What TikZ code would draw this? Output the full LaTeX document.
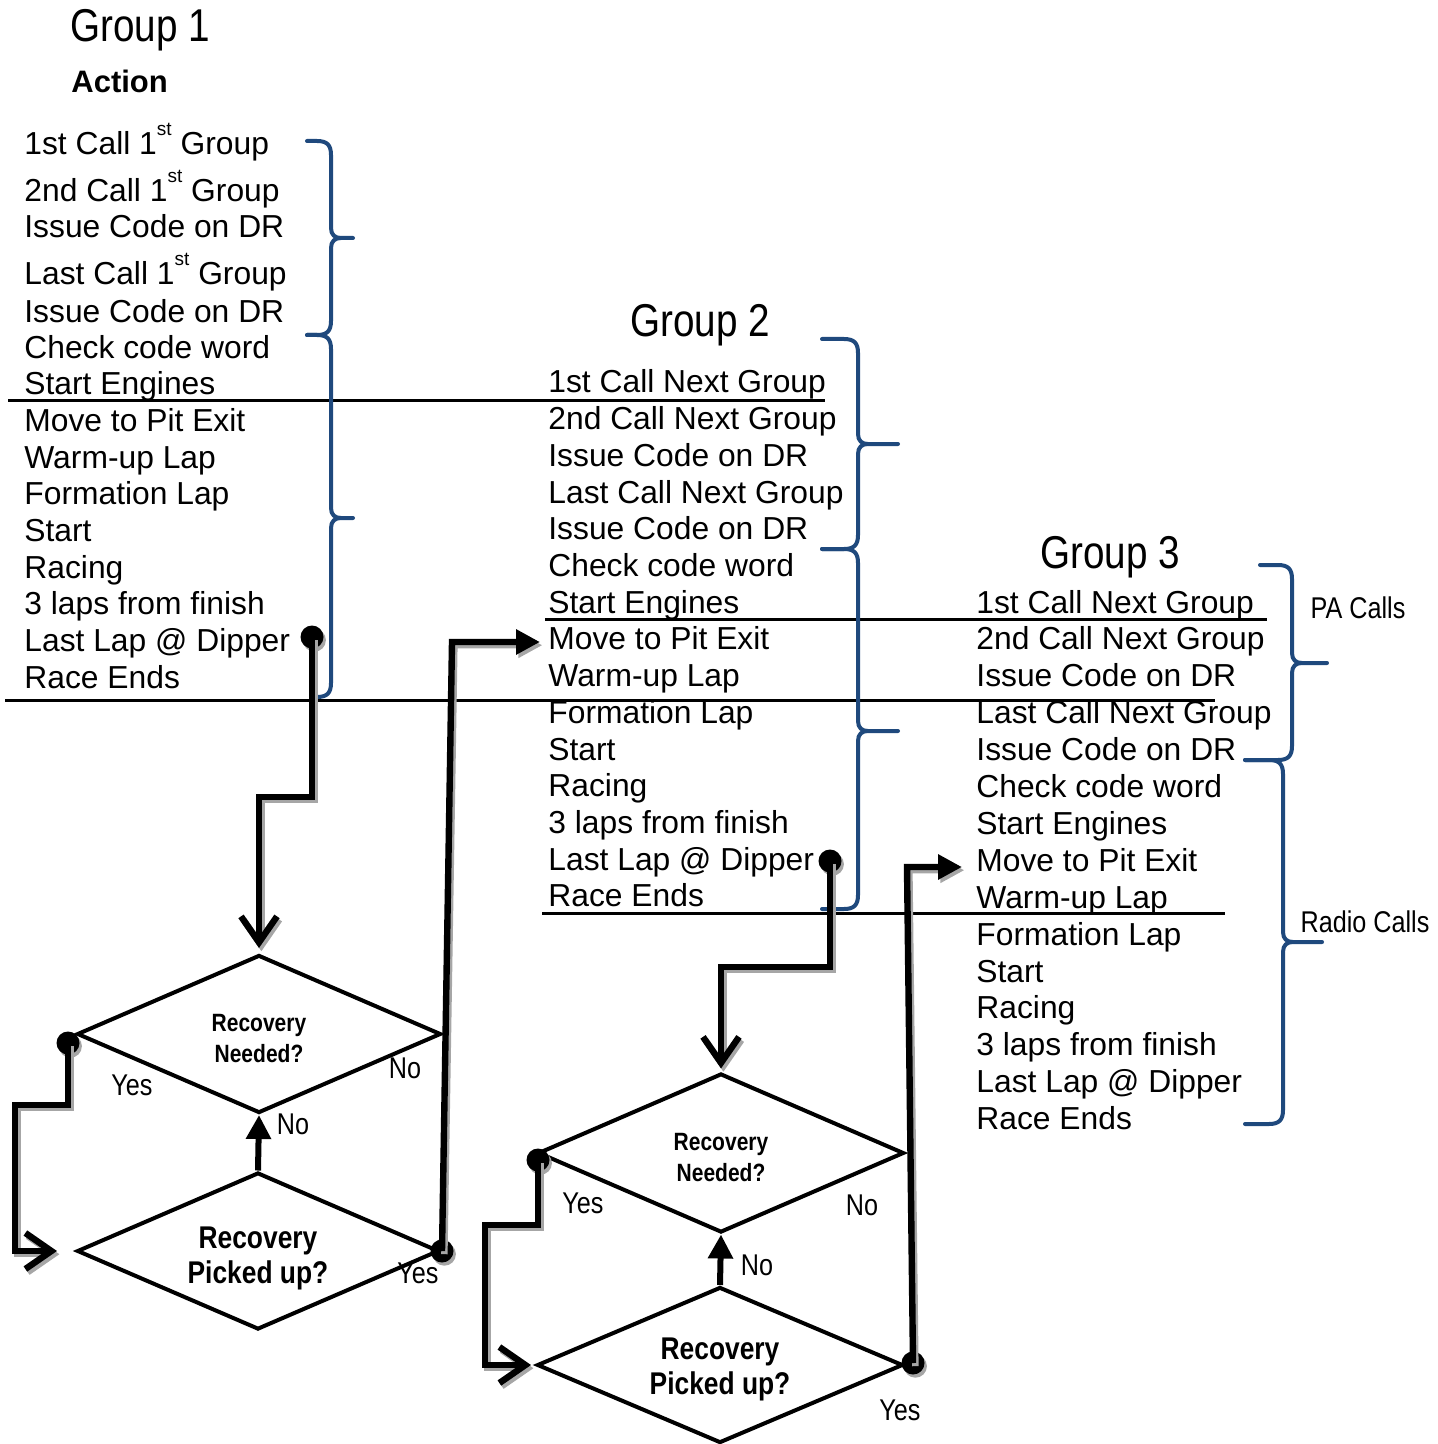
\documentclass[tikz,border=0pt]{standalone}
\usepackage{fontspec}
\setmainfont{Liberation Sans}
\newfontfamily\narrowf[FakeStretch=0.84]{Liberation Sans}
\usetikzlibrary{arrows.meta,shapes.geometric,shadows}
\definecolor{bracec}{RGB}{31,73,125}
\newcommand\supst{\raisebox{9.5pt}{\fontsize{9.5}{10}\selectfont st}}
\newcommand\bracedraw[7]{%
  \draw[brace] (#1,#2) -- (#3-14,#2) .. controls (#3-4,#2) and (#3,#2+4) .. (#3,#2+14)
    -- (#3,#4-10) .. controls (#3,#4-3) and (#3+4,#4) .. (#3+10,#4) -- (#5,#4)
    -- (#3+10,#4) .. controls (#3+4,#4) and (#3,#4+3) .. (#3,#4+10)
    -- (#3,#6-14) .. controls (#3,#6-4) and (#3-4,#6) .. (#3-14,#6) -- (#7,#6);}
\newcommand\shconn[2]{%
  \draw[conn, #1, draw=black!35, transform canvas={shift={(1.2pt,-1.6pt)}}] #2;
  \draw[conn, #1] #2;}
\tikzset{
  lst/.style={anchor=base west, inner sep=0, font=\fontsize{15.9}{18}\selectfont},
  head/.style={anchor=base west, inner sep=0, font=\narrowf\fontsize{23}{26}\selectfont},
  lbl/.style={inner sep=0, font=\narrowf\fontsize{15}{17}\selectfont},
  brace/.style={draw=bracec, line width=2pt, line join=round, line cap=round},
  sepline/.style={line width=1.5pt},
  conn/.style={line width=3.2pt},
  barb/.style={-{Straight Barb[length=13pt,width=18pt]}},
  tri/.style={-{Triangle[length=12pt,width=12pt]}},
  dia/.style={diamond, draw, line width=2pt, inner sep=0, align=center, aspect=2.3},
  smalltxt/.style={font=\narrowf\bfseries\fontsize{12.5}{15.5}\selectfont},
  bigtxt/.style={font=\narrowf\bfseries\fontsize{15.7}{17.5}\selectfont},
  dot/.style={circle, fill=black, inner sep=0, minimum size=11.5pt},
  dotsh/.style={circle, fill=black!35, inner sep=0, minimum size=11.5pt},
}
\begin{document}
\begin{tikzpicture}[x=0.5pt,y=-0.5pt]
\useasboundingbox (0,0) rectangle (1438,1444);

% headings
\node[head] (h1) at (70,42) {Group 1};
\node[anchor=base west, inner sep=0, font=\bfseries\fontsize{15.5}{18}\selectfont] (act) at (71,93) {Action};
\node[head] (h2) at (630,336) {Group 2};
\node[head] (h3) at (1040,568) {Group 3};

% group 1 list
\foreach \y/\t [count=\i] in {155/{1st Call 1\supst\ Group}, 202/{2nd Call 1\supst\ Group},
  238/{Issue Code on DR}, 285/{Last Call 1\supst\ Group}, 322/{Issue Code on DR},
  358/{Check code word}, 394.7/{Start Engines}, 431.4/{Move to Pit Exit},
  468.1/{Warm-up Lap}, 504.8/{Formation Lap}, 541.5/{Start}, 578.2/{Racing},
  614.9/{3 laps from finish}, 651.6/{Last Lap @ Dipper}, 688.3/{Race Ends}}
  \node[lst] (ga\i) at (24,\y) {\t};

% group 2 list
\foreach \t [count=\i] in {1st Call Next Group, 2nd Call Next Group, Issue Code on DR,
  Last Call Next Group, Issue Code on DR, Check code word, Start Engines, Move to Pit Exit,
  Warm-up Lap, Formation Lap, Start, Racing, 3 laps from finish, Last Lap @ Dipper, Race Ends}
  \node[lst] (gb\i) at (548,{393+36.7*(\i-1)}) {\t};

% group 3 list
\foreach \t [count=\i] in {1st Call Next Group, 2nd Call Next Group, Issue Code on DR,
  Last Call Next Group, Issue Code on DR, Check code word, Start Engines, Move to Pit Exit,
  Warm-up Lap, Formation Lap, Start, Racing, 3 laps from finish, Last Lap @ Dipper, Race Ends}
  \node[lst] (gc\i) at (976,{613+36.9*(\i-1)}) {\t};

% separator lines
\draw[sepline] (8,400) -- (825,400);
\draw[sepline] (5,700) -- (1215,700);
\draw[sepline] (545,619) -- (1267,619);
\draw[sepline] (542,913) -- (1225,913);

% braces
\bracedraw{307}{141}{331}{238}{353}{335}{307}
\bracedraw{307}{335}{331}{518}{353}{697}{312}
\bracedraw{822}{339}{858}{444}{898}{549}{822}
\bracedraw{822}{549}{858}{731}{898}{909}{822}
\bracedraw{1260}{565}{1292}{663}{1327}{760}{1245}
\bracedraw{1245}{760}{1283}{942}{1322}{1124}{1245}
\node[lbl] (pa) at (1358,608) {PA Calls};
\node[lbl] (radio) at (1365,922) {Radio Calls};

% diamonds group 1
\node[dia, smalltxt, minimum width=182pt, minimum height=79pt] (d1) at (259,1034) {\rule{0pt}{13pt}Recovery\\Needed?};
\node[dia, bigtxt, minimum width=181pt, minimum height=78.5pt] (d2) at (258,1251) {\rule{0pt}{18.5pt}Recovery\\Picked up?};
% diamonds group 2
\node[dia, smalltxt, minimum width=183pt, minimum height=79.5pt] (d3) at (721,1153) {\rule{0pt}{13pt}Recovery\\Needed?};
\node[dia, bigtxt, minimum width=183pt, minimum height=78pt] (d4) at (720,1365) {\rule{0pt}{15.5pt}Recovery\\Picked up?};

% dot shadows and dots
\foreach \x/\y [count=\i] in {312/637, 68/1043, 442/1251, 830/861, 538/1160, 913/1363}
  \node[dotsh] (s\i) at (\x+2.4,\y+3.2) {};
\node[dot] (p1) at (312,637) {};
\node[dot] (p2) at (68,1043) {};
\node[dot] (p3) at (442,1251) {};
\node[dot] (p4) at (830,861) {};
\node[dot] (p5) at (538,1160) {};
\node[dot] (p6) at (913,1363) {};
\coordinate (t2) at (540,642);
\coordinate (t3) at (962,867);

% connectors group 1
\shconn{barb, shorten >=2.5pt}{(p1.center) -- ++(0,160) -| (d1.north)}
\shconn{barb, shorten >=9pt}{(p2.center) -- (68,1105) -- (15,1105) |- (d2.west)}
\draw[line width=3pt, tri] (d2.north) -- (d1.south);
\shconn{tri}{(p3.center) -- (452,642) -- (t2)}
% connectors group 2
\shconn{barb, shorten >=1.5pt}{(p4.center) -- ++(0,106) -| (d3.north)}
\shconn{barb, shorten >=2pt}{(p5.center) -- (538,1225) -- (485,1225) |- (d4.west)}
\draw[line width=3pt, tri] (d4.north) -- (d3.south);
\shconn{tri}{(p6.center) -- (907,867) -- (t3)}

% yes/no labels
\node[lbl] (y1) at (132,1085) {Yes};
\node[lbl] (n1) at (405,1068) {No};
\node[lbl] (n2) at (293,1124) {No};
\node[lbl] (y2) at (418,1273) {Yes};
\node[lbl] (y3) at (583,1203) {Yes};
\node[lbl] (n3) at (862,1205) {No};
\node[lbl] (n4) at (757,1265) {No};
\node[lbl] (y4) at (900,1410) {Yes};
\end{tikzpicture}
\end{document}
